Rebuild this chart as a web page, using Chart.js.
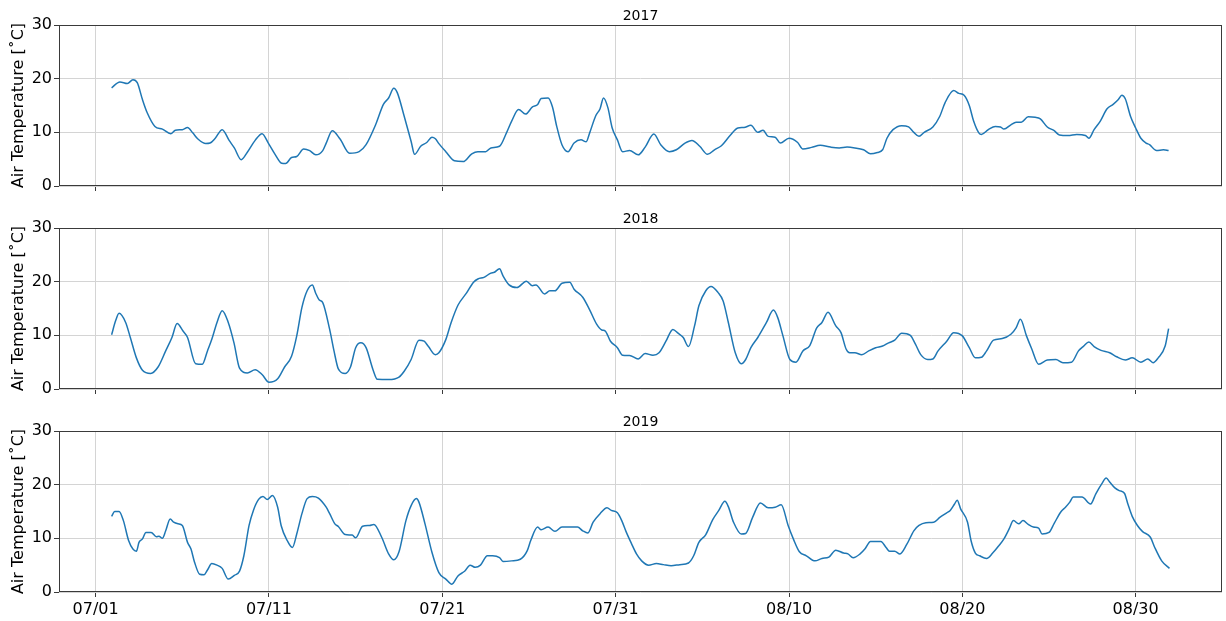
<!DOCTYPE html>
<html lang="en">
<head>
<meta charset="UTF-8">
<title>Air Temperature 2017-2019</title>
<script src="https://cdn.jsdelivr.net/npm/chart.js"></script>
<style>
  body { margin: 0; background: #fff; overflow: hidden; }
  .panel { position: absolute; left: 0; }
</style>
</head>
<body>
<div class="panel" style="top:0"><canvas id="c2017" width="1226" height="203"></canvas></div>
<div class="panel" style="top:203px"><canvas id="c2018" width="1226" height="203"></canvas></div>
<div class="panel" style="top:406px"><canvas id="c2019" width="1226" height="215"></canvas></div>
<script>
// x values are days since 07/01
const tickDays = [0, 10, 20, 30, 40, 50, 60];
const tickLabels = ['07/01', '07/11', '07/21', '07/31', '08/10', '08/20', '08/30'];
const xMin = -2.115, xMax = 64.98;

const days2017 = [0.92,1.4,1.83,2.15,2.4,2.7,2.98,3.42,3.85,4.33,4.6,5.0,5.3,5.6,5.9,6.35,6.6,6.9,7.3,7.7,8.0,8.4,8.75,9.2,9.6,9.96,10.35,10.73,10.96,11.3,11.6,12.0,12.35,12.7,13.1,13.3,13.65,14.1,14.65,15.2,15.6,16.15,16.6,16.9,17.2,17.4,17.8,18.2,18.4,18.75,19.1,19.4,19.6,19.8,20.2,20.7,21.2,21.7,22.05,22.5,22.8,23.3,23.7,24.0,24.4,24.8,25.2,25.5,25.7,26.1,26.35,26.6,26.9,27.25,27.6,28.0,28.3,28.5,28.85,29.1,29.3,29.55,29.8,30.1,30.4,30.8,31.3,31.7,32.2,32.6,33.1,33.5,34.0,34.4,34.85,35.3,35.7,36.1,36.6,37.05,37.4,37.8,38.2,38.5,38.8,39.2,39.5,40.0,40.5,40.8,41.3,41.8,42.4,42.9,43.35,43.8,44.3,44.7,45.1,45.4,45.65,46.0,46.5,46.9,47.2,47.5,47.8,48.3,48.7,49.0,49.5,49.8,50.1,50.4,50.65,50.95,51.1,51.5,51.9,52.2,52.4,52.8,53.1,53.4,53.8,54.2,54.5,54.9,55.3,55.6,56.1,56.6,57.1,57.3,57.6,57.96,58.35,58.7,59.0,59.2,59.4,59.7,60.0,60.3,60.6,60.8,61.2,61.6,61.9];
const temp2017 = [18.3,19.4,19.1,19.8,19.25,16.1,13.6,11.1,10.6,9.75,10.4,10.5,10.9,9.9,8.75,7.9,8.0,8.9,10.5,8.5,7.1,4.9,6.3,8.5,9.75,8.0,5.9,4.25,4.2,5.3,5.5,6.9,6.6,5.8,6.6,8.0,10.3,8.75,6.1,6.4,7.7,11.4,15.2,16.4,18.2,17.4,13.0,8.3,5.9,7.4,8.1,9.1,8.8,7.9,6.4,4.7,4.55,6.0,6.4,6.4,7.1,7.4,9.9,12.1,14.25,13.4,14.75,15.2,16.3,16.4,14.75,11.1,7.7,6.4,8.0,8.6,8.25,9.9,13.1,14.4,16.4,14.6,10.8,8.6,6.4,6.6,5.8,7.25,9.7,7.7,6.4,6.75,8.0,8.5,7.4,5.9,6.75,7.5,9.4,10.8,10.9,11.3,10.0,10.4,9.25,9.1,8.0,8.9,8.1,6.9,7.2,7.6,7.25,7.1,7.25,7.1,6.75,6.0,6.25,6.75,8.9,10.5,11.25,11.0,10.0,9.25,10.0,11.0,13.0,15.5,17.8,17.25,16.9,15.0,12.1,9.9,9.6,10.5,11.1,11.0,10.6,11.4,11.9,11.9,12.9,12.8,12.5,11.0,10.3,9.5,9.4,9.6,9.4,8.9,10.5,12.1,14.4,15.2,16.1,16.9,16.25,13.0,10.8,8.9,8.0,7.7,6.6,6.75,6.6];

const days2018 = [0.92,1.15,1.35,1.73,2.0,2.35,2.7,3.17,3.6,4.04,4.4,4.7,5.04,5.3,5.77,6.15,6.45,6.7,7.0,7.3,7.65,7.98,8.3,8.75,9.2,9.6,10.0,10.5,10.9,11.3,11.6,11.9,12.2,12.5,12.7,12.9,13.1,13.5,13.75,14.0,14.4,14.7,15.0,15.3,15.6,16.0,16.25,16.9,17.5,17.8,18.2,18.65,18.95,19.2,19.6,19.8,20.2,20.5,20.9,21.4,21.8,22.05,22.4,22.8,23.0,23.3,23.5,23.85,24.3,24.85,25.2,25.4,25.9,26.2,26.5,26.9,27.35,27.6,28.1,28.5,28.9,29.2,29.4,29.7,30.1,30.4,30.8,31.3,31.7,32.15,32.5,32.9,33.3,33.6,33.9,34.2,34.55,34.8,35.2,35.5,35.9,36.2,36.5,36.9,37.25,37.5,37.8,38.2,38.7,39.1,39.35,39.65,40.05,40.4,40.8,41.2,41.6,41.9,42.25,42.7,43.0,43.3,43.5,43.8,44.2,44.6,45.0,45.4,45.75,46.1,46.5,47.0,47.3,47.6,48.0,48.3,48.6,49.1,49.5,50.0,50.4,50.75,51.1,51.4,51.8,52.3,52.8,53.1,53.35,53.7,54.0,54.4,54.9,55.4,55.8,56.3,56.7,57.0,57.3,57.6,58.0,58.5,58.9,59.4,59.8,60.3,60.7,61.0,61.3,61.7,61.9];
const temp2018 = [10.1,12.7,14.1,12.4,9.6,5.8,3.5,2.9,4.1,7.1,9.6,12.2,10.8,9.6,4.7,4.6,7.1,9.25,12.4,14.6,12.4,8.6,3.9,3.0,3.6,2.7,1.25,1.9,4.1,6.1,9.9,15.2,18.3,19.4,17.8,16.6,16.1,11.1,7.1,3.75,2.9,4.1,7.7,8.6,7.7,3.6,1.8,1.75,2.2,3.3,5.5,9.1,8.9,7.9,6.4,6.75,9.2,12.3,15.6,17.9,19.9,20.5,20.8,21.6,21.75,22.4,21.1,19.4,18.9,20.1,19.25,19.4,17.7,18.3,18.3,19.7,19.9,18.6,17.1,14.75,12.1,11.0,10.8,8.9,7.7,6.3,6.25,5.6,6.6,6.3,6.75,8.9,11.1,10.4,9.6,7.9,11.75,15.5,18.3,19.1,18.0,16.4,12.4,6.75,4.7,5.5,7.7,9.6,12.4,14.7,13.3,9.9,5.5,5.0,7.1,8.1,11.4,12.4,14.3,11.75,10.5,7.4,6.75,6.75,6.4,7.1,7.7,8.0,8.6,9.1,10.4,10.0,8.3,6.4,5.5,5.6,7.1,8.9,10.5,9.9,7.7,5.8,5.9,7.1,9.1,9.4,10.2,11.4,13.0,9.9,7.5,4.6,5.4,5.5,4.9,5.0,7.1,8.0,8.75,7.9,7.2,6.75,6.0,5.4,5.8,5.0,5.6,4.9,5.8,8.0,11.25];

const days2019 = [0.92,1.1,1.35,1.6,1.9,2.15,2.35,2.5,2.7,2.9,3.2,3.5,3.65,3.85,4.04,4.3,4.5,4.75,5.0,5.3,5.5,5.7,6.0,6.25,6.45,6.7,7.0,7.3,7.65,8.0,8.3,8.55,8.85,9.1,9.4,9.65,9.9,10.2,10.5,10.7,11.05,11.35,11.6,11.9,12.2,12.5,12.85,13.3,13.5,13.8,14.0,14.4,14.8,15.0,15.4,15.8,16.05,16.5,16.9,17.2,17.5,17.9,18.2,18.5,18.65,19.0,19.4,19.8,20.2,20.55,20.9,21.3,21.6,21.9,22.2,22.6,22.9,23.3,23.5,24.0,24.5,24.9,25.1,25.5,25.7,26.1,26.5,26.9,27.35,27.8,28.1,28.4,28.7,29.1,29.5,29.75,30.1,30.35,30.6,30.9,31.2,31.5,31.9,32.35,32.75,33.2,33.7,34.2,34.5,34.8,35.2,35.6,35.95,36.3,36.5,36.8,37.25,37.5,37.9,38.35,38.8,39.2,39.55,39.95,40.25,40.6,41.0,41.5,41.9,42.3,42.7,43.15,43.4,43.7,44.1,44.4,44.7,45.0,45.3,45.6,45.8,46.1,46.4,46.8,47.2,47.5,47.9,48.35,48.7,49.1,49.3,49.55,49.7,49.9,50.3,50.5,50.75,51.0,51.4,51.75,52.1,52.4,52.7,52.95,53.25,53.5,53.8,54.1,54.4,54.6,55.0,55.3,55.7,55.95,56.2,56.4,56.9,57.4,57.7,58.05,58.3,58.5,58.8,59.05,59.35,59.55,59.8,60.1,60.4,60.85,61.1,61.5,61.95];
const temp2019 = [14.1,15.0,15.0,13.3,9.6,8.0,7.6,9.25,9.9,11.1,11.1,10.3,10.4,10.0,11.4,13.6,13.0,12.7,12.4,9.25,8.0,5.6,3.3,3.2,4.1,5.3,5.0,4.4,2.4,3.1,3.9,6.75,12.4,15.2,17.25,17.8,17.25,18.0,15.8,12.4,9.6,8.3,10.8,14.6,17.4,17.8,17.5,15.8,14.6,12.7,12.2,10.7,10.6,10.1,12.25,12.4,12.6,10.2,7.1,6.0,7.5,13.3,16.1,17.4,16.75,12.7,7.4,3.6,2.4,1.45,3.0,3.9,5.0,4.6,5.0,6.75,6.75,6.4,5.7,5.8,6.1,7.7,9.6,12.1,11.6,12.1,11.3,12.1,12.1,12.1,11.4,11.0,13.0,14.6,15.7,15.2,14.75,13.3,11.25,9.1,7.1,5.8,5.0,5.3,5.1,4.9,5.1,5.4,6.75,9.25,10.7,13.5,15.2,16.9,15.9,13.0,10.8,10.9,13.9,16.6,15.7,15.8,16.25,12.4,9.9,7.5,6.75,5.8,6.25,6.5,7.8,7.25,7.1,6.4,7.1,8.1,9.4,9.4,9.4,8.3,7.6,7.6,7.1,8.9,11.4,12.4,12.9,13.0,13.9,14.75,15.2,16.4,17.1,15.5,13.0,9.6,7.25,6.75,6.25,7.25,8.6,9.9,11.75,13.3,12.7,13.3,12.6,12.1,11.9,10.8,11.1,12.8,15.0,15.8,16.75,17.7,17.7,16.4,18.3,20.2,21.25,20.5,19.4,18.9,18.4,16.4,14.1,12.4,11.25,10.2,8.3,5.8,4.4];

const FONT = 'DejaVu Sans';

// full box around the plot area, like matplotlib spines
const framePlugin = {
  id: 'frame',
  afterDraw(chart) {
    const a = chart.chartArea, ctx = chart.ctx;
    ctx.save();
    ctx.strokeStyle = '#3a3a3a';
    ctx.lineWidth = 1;
    ctx.strokeRect(a.left + 0.5, a.top + 0.5, a.right - a.left - 1, a.bottom - a.top - 1);
    ctx.restore();
  }
};

const panelTitle = {
  id: 'panelTitle',
  afterDraw(chart, args, opts) {
    const a = chart.chartArea, ctx = chart.ctx;
    ctx.save();
    ctx.font = '14px "' + FONT + '"';
    ctx.fillStyle = '#000';
    ctx.textAlign = 'center';
    ctx.textBaseline = 'alphabetic';
    ctx.fillText(opts.text, (a.left + a.right) / 2, a.top - 5);
    ctx.restore();
  }
};

function makePanel(id, title, days, temps, showXLabels, xAxisHeight) {
  new Chart(document.getElementById(id), {
    type: 'line',
    data: {
      datasets: [{
        data: days.map((d, i) => ({ x: d, y: temps[i] })),
        borderColor: '#1f77b4',
        borderWidth: 1.5,
        pointRadius: 0,
        cubicInterpolationMode: 'monotone',
        fill: false
      }]
    },
    options: {
      responsive: false,
      animation: false,
      events: [],
      layout: { padding: { top: 25, right: 4, left: 0, bottom: 0 } },
      plugins: {
        legend: { display: false },
        tooltip: { enabled: false },
        panelTitle: { text: title }
      },
      scales: {
        x: {
          type: 'linear',
          min: xMin,
          max: xMax,
          afterBuildTicks: s => { s.ticks = tickDays.map(v => ({ value: v })); },
          afterFit: s => { s.height = xAxisHeight; },
          border: { display: false },
          grid: { color: '#d4d4d4', tickColor: '#3a3a3a', tickLength: 5, drawTicks: true },
          ticks: {
            autoSkip: false,
            maxRotation: 0,
            padding: 3,
            color: '#000',
            font: { family: FONT, size: 16 },
            callback: v => showXLabels ? tickLabels[tickDays.indexOf(v)] : ''
          }
        },
        y: {
          min: 0,
          max: 30,
          afterFit: s => { s.width = 59; },
          border: { display: false },
          grid: { color: '#d4d4d4', tickColor: '#3a3a3a', tickLength: 5, drawTicks: true },
          ticks: { stepSize: 10, padding: 2, color: '#000', font: { family: FONT, size: 16 } },
          title: {
            display: true,
            text: 'Air Temperature [˚C]',
            color: '#000',
            font: { family: FONT, size: 16 },
            padding: { top: 9, bottom: 0 }
          }
        }
      }
    },
    plugins: [framePlugin, panelTitle]
  });
}

makePanel('c2017', '2017', days2017, temp2017, false, 17);
makePanel('c2018', '2018', days2018, temp2018, false, 17);
makePanel('c2019', '2019', days2019, temp2019, true, 29);
</script>
</body>
</html>
